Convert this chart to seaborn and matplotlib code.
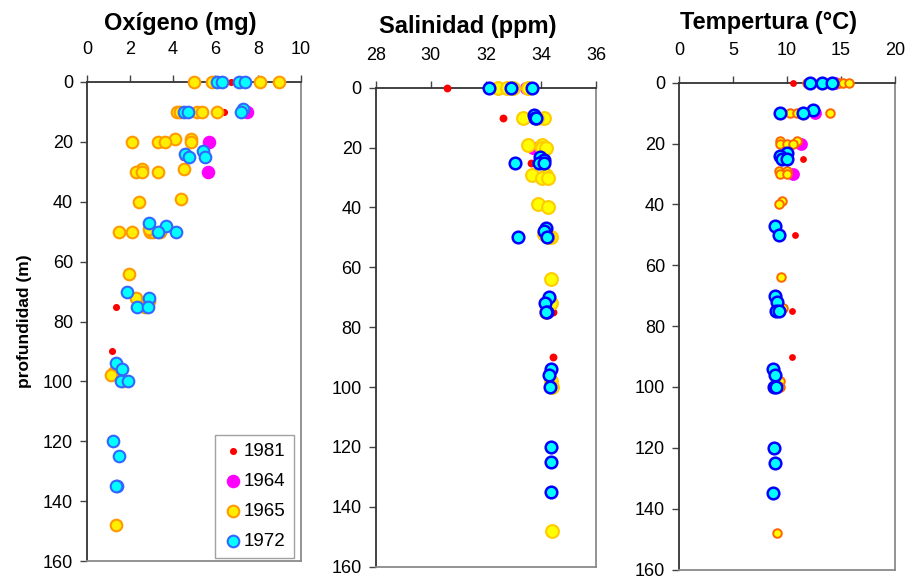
import matplotlib
matplotlib.use("Agg")
import matplotlib.pyplot as plt
import seaborn as sns
import numpy as np

sns.set_style("white")
plt.rcParams['font.family'] = ['Liberation Sans', 'DejaVu Sans']
plt.rcParams['text.color'] = 'black'
plt.rcParams['axes.labelcolor'] = 'black'
plt.rcParams['xtick.color'] = 'black'
plt.rcParams['ytick.color'] = 'black'

years = ["1981", "1964", "1965", "1972"]

# ---------------- Oxígeno (mg) ----------------
oxy_1981_x = [6.71, 6.42, 4.50, 2.79, 1.34, 1.17]
oxy_1981_d = [0, 10, 25, 50, 75, 90]
oxy_1964_x = [7.46, 5.72, 5.67]
oxy_1964_d = [10, 20, 30]
oxy_1965_x = [5.01, 5.86, 8.08, 8.97, 4.22, 4.35, 5.16, 5.36, 6.06,
              4.11, 4.86, 2.12, 3.33, 3.64, 4.86, 4.55, 2.55, 2.27, 2.55, 3.33,
              4.39, 2.43, 1.51, 2.12, 2.95, 3.10, 3.40, 2.90,
              1.96, 2.29, 2.90, 2.70, 1.28, 1.12, 1.70, 1.36]
oxy_1965_d = [0, 0, 0, 0, 10, 10, 10, 10, 10,
              19, 19, 20, 20, 20, 20, 29, 29, 30, 30, 30,
              39, 40, 50, 50, 50, 50, 50, 49,
              64, 72, 73, 75, 97, 98, 100, 148]
oxy_1972_x = [6.06, 6.29, 7.12, 7.38, 7.27, 4.53, 4.74, 7.18,
              5.44, 4.58, 4.77, 5.51, 2.91, 3.68, 3.30, 4.14,
              1.85, 2.91, 2.32, 2.83, 1.34, 1.65, 1.57, 1.90,
              1.20, 1.48, 1.39, 1.36]
oxy_1972_d = [0, 0, 0, 0, 9, 10, 10, 10,
              23, 24, 25, 25, 47, 48, 50, 50,
              70, 72, 75, 75, 94, 96, 100, 100,
              120, 125, 135, 135]

# ---------------- Salinidad (ppm) ----------------
sal_1981_x = [30.58, 32.63, 33.64, 34.45, 34.45]
sal_1981_d = [0, 10, 25, 75, 90]
sal_1964_x = [33.45, 33.40, 33.70, 34.05]
sal_1964_d = [0, 10, 20, 30]
sal_1965_x = [32.45, 32.76, 33.00, 33.54, 33.34, 34.12, 33.85,
              33.52, 34.03, 34.03, 34.17, 33.69, 34.17, 34.05, 34.27,
              33.91, 34.27, 34.10, 34.37, 34.25, 34.35, 34.35, 34.20,
              34.35, 34.40, 34.41]
sal_1965_d = [0, 0, 0, 0, 10, 10, 10,
              19, 19, 20, 20, 29, 29, 30, 30,
              39, 40, 49, 50, 50, 64, 72, 75,
              98, 100, 148]
sal_1972_x = [32.11, 32.91, 33.66, 33.75, 33.78, 33.82,
              33.97, 34.11, 33.06, 33.94, 34.11,
              34.17, 34.12, 33.18, 34.21,
              34.30, 34.15, 34.23, 34.18, 34.35, 34.29, 34.33,
              34.35, 34.35, 34.35]
sal_1972_d = [0, 0, 0, 9, 10, 10,
              23, 24, 25, 25, 25,
              47, 48, 50, 50,
              70, 72, 75, 75, 94, 96, 100,
              120, 125, 135]

# ---------------- Tempertura (°C) ----------------
tem_1981_x = [10.59, 11.45, 10.74, 10.46, 10.43]
tem_1981_d = [0, 25, 50, 75, 90]
tem_1964_x = [14.40, 12.59, 11.30, 10.60]
tem_1964_d = [0, 10, 20, 30]
tem_1965_x = [11.82, 13.50, 14.80, 15.20, 15.74, 10.28, 10.90, 13.98,
              9.35, 10.96, 9.35, 9.97, 10.52, 9.29, 9.97, 9.35, 9.97,
              9.57, 9.26, 9.41, 9.60, 9.35, 9.35, 9.04]
tem_1965_d = [0, 0, 0, 0, 0, 10, 10, 10,
              19, 19, 20, 20, 20, 29, 29, 30, 30,
              39, 40, 64, 74, 98, 100, 148]
tem_1972_x = [12.13, 13.21, 14.20, 12.38, 9.35, 11.51,
              9.97, 9.35, 9.51, 9.97, 8.89, 9.29,
              8.89, 9.10, 8.95, 9.30, 8.70, 8.89, 8.80, 9.00,
              8.76, 8.85, 8.70]
tem_1972_d = [0, 0, 0, 9, 10, 10,
              23, 24, 25, 25, 47, 50,
              70, 72, 75, 75, 94, 96, 100, 100,
              120, 125, 135]

depth_ticks = list(range(0, 161, 20))
oxy_ticks = [0, 2, 4, 6, 8, 10]
sal_ticks = [28, 30, 32, 34, 36]
tem_ticks = [0, 5, 10, 15, 20]

titles = ["Oxígeno (mg)", "Salinidad (ppm)", "Tempertura (°C)"]

styles = {
    0: {"1981": dict(color="#FF0000", s=26, linewidth=0),
        "1964": dict(color="#FF00FF", s=95, linewidth=0),
        "1965": dict(color="#FFEE00", edgecolor="#FF9900", s=70, linewidth=1.5),
        "1972": dict(color="#00FFFF", edgecolor="#3366FF", s=70, linewidth=1.5)},
    1: {"1981": dict(color="#FF0000", s=32, linewidth=0),
        "1964": dict(color="#FF00FF", s=90, linewidth=0),
        "1965": dict(color="#FFFF00", edgecolor="#FFCC00", s=85, linewidth=1.5),
        "1972": dict(color="#00FFFF", edgecolor="#0000FF", s=70, linewidth=1.8)},
    2: {"1981": dict(color="#FF0000", s=24, linewidth=0),
        "1964": dict(color="#FF00FF", s=85, linewidth=0),
        "1965": dict(color="#FFFF00", edgecolor="#FF6600", s=38, linewidth=1.4),
        "1972": dict(color="#00FFFF", edgecolor="#0000FF", s=70, linewidth=1.8)},
}

data = [
    {"1981": (oxy_1981_x, oxy_1981_d), "1964": (oxy_1964_x, oxy_1964_d),
     "1965": (oxy_1965_x, oxy_1965_d), "1972": (oxy_1972_x, oxy_1972_d)},
    {"1981": (sal_1981_x, sal_1981_d), "1964": (sal_1964_x, sal_1964_d),
     "1965": (sal_1965_x, sal_1965_d), "1972": (sal_1972_x, sal_1972_d)},
    {"1981": (tem_1981_x, tem_1981_d), "1964": (tem_1964_x, tem_1964_d),
     "1965": (tem_1965_x, tem_1965_d), "1972": (tem_1972_x, tem_1972_d)},
]
xticks_all = [oxy_ticks, sal_ticks, tem_ticks]

W, H = 910, 578
fig = plt.figure(figsize=(W / 100, H / 100), dpi=100)
rects_px = [(87, 82, 301, 561), (375.7, 87.7, 596, 566.7), (679, 82.7, 895, 569.5)]
axes = []
for (l, t, r, b) in rects_px:
    axes.append(fig.add_axes([l / W, (H - b) / H, (r - l) / W, (b - t) / H]))

title_pos = [(180, 30), (467.5, 32.7), (768, 29.3)]

for i, ax in enumerate(axes):
    for z, yr in enumerate(years):
        xs, ds = data[i][yr]
        sns.scatterplot(x=xs, y=ds, ax=ax, label=yr if i == 0 else None,
                        clip_on=False, zorder=4 + z, **styles[i][yr])
    ticks = xticks_all[i]
    ax.set_xlim(ticks[0], ticks[-1])
    ax.set_ylim(160, 0)
    ax.set_xticks(ticks)
    ax.set_yticks(depth_ticks)
    ax.xaxis.tick_top()
    ax.tick_params(axis='x', which='major', direction='out', length=5, width=1,
                   color='#444444', labelcolor='black', labelsize=13, pad=12,
                   top=True, bottom=False)
    ax.tick_params(axis='y', which='major', direction='out', length=5, width=1,
                   color='#444444', labelcolor='black', labelsize=13, pad=5,
                   left=True)
    for s in ['top', 'left']:
        ax.spines[s].set_color('#333333')
        ax.spines[s].set_linewidth(1.3)
    for s in ['right', 'bottom']:
        ax.spines[s].set_color('#8a8a8a')
        ax.spines[s].set_linewidth(1.3)
    ax.set_xlabel('')
    ax.set_ylabel('')
    ax.grid(False)
    tx, ty = title_pos[i]
    fig.text(tx / W, 1 - ty / H, titles[i], ha='center', va='baseline',
             fontsize=17, fontweight='bold', color='black')

axes[0].set_ylabel('profundidad (m)', fontsize=12.5, fontweight='bold',
                   labelpad=8, color='black')
leg = axes[0].legend(loc='lower right', bbox_to_anchor=(0.967, 0.006),
                     borderaxespad=0, fontsize=13.5, frameon=True, fancybox=False,
                     edgecolor='#8a8a8a', labelspacing=0.68, handletextpad=0.1,
                     handlelength=1.0, borderpad=0.45)
leg.get_frame().set_linewidth(1.0)
for t in leg.get_texts():
    t.set_color('black')
for ax in axes[1:]:
    if ax.get_legend() is not None:
        ax.get_legend().remove()

fig.savefig("out.png", dpi=100)
